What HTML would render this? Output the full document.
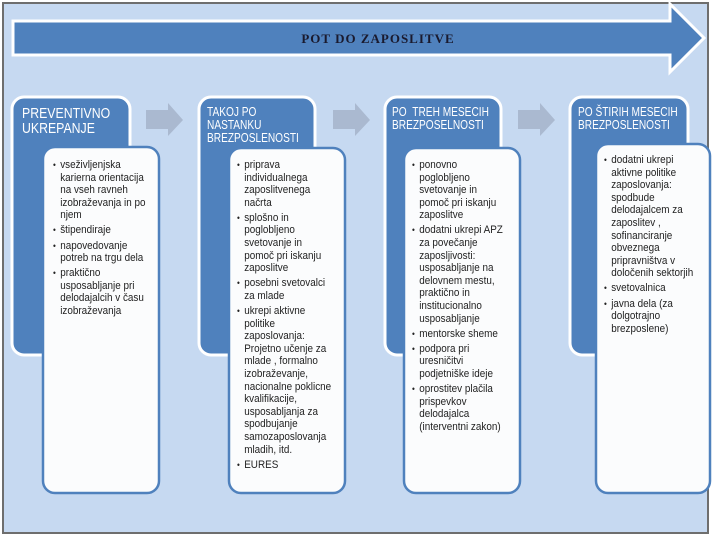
<!DOCTYPE html>
<html><head><meta charset="utf-8"><style>
body{margin:0;width:715px;height:537px;overflow:hidden;background:#fff;position:relative;font-family:"Liberation Sans",sans-serif}
.t{position:absolute;white-space:nowrap;color:#222;font-size:11px;line-height:12.6px;transform:scaleX(0.9);transform-origin:0 0}
.h{position:absolute;white-space:nowrap;color:#fff;font-size:13px;line-height:13px;transform:scaleX(0.78);transform-origin:0 0}
.li{position:relative;padding-left:8px;margin-bottom:2.5px}
.li:before{content:"•";position:absolute;left:0;top:0;font-size:9px}
</style></head><body>
<svg width="715" height="537" style="position:absolute;left:0;top:0">
<rect x="3" y="3" width="705" height="530" fill="#c6d9f1" stroke="#6e6e6e" stroke-width="2"/>
<polygon points="13,21 670,21 670,4 704,38 670,72 670,55 13,55" fill="#4f81bd" stroke="#fff" stroke-width="3"/>
<g fill="#aab9d0">
<polygon points="146,110 168,110 168,103 183,120 168,136 168,129 146,129"/>
<polygon points="333,110 355,110 355,103 370,120 355,136 355,129 333,129"/>
<polygon points="518,110 540,110 540,103 555,120 540,136 540,129 518,129"/>
</g>
<g fill="#4f81bd" stroke="#fff" stroke-width="3">
<rect x="12" y="97" width="118" height="258" rx="12"/>
<rect x="199" y="97" width="116" height="258" rx="12"/>
<rect x="385" y="97" width="116" height="258" rx="12"/>
<rect x="570" y="97" width="118" height="258" rx="12"/>
</g>
<g fill="#fbfcfd" stroke="#4f81bd" stroke-width="2.5">
<rect x="43" y="147" width="116" height="346" rx="12"/>
<rect x="229" y="148" width="116" height="345" rx="12"/>
<rect x="404" y="148" width="116" height="345" rx="12"/>
<rect x="596" y="144" width="114" height="349" rx="12"/>
</g>
<text x="378" y="43" text-anchor="middle" font-family="Liberation Serif,serif" font-weight="bold" font-size="13" letter-spacing="1" fill="#1a1a2e">POT DO ZAPOSLITVE</text>
</svg>
<div class="h" style="left:22px;top:106px;font-size:15px;line-height:15px;transform:scaleX(0.82)">PREVENTIVNO<br>UKREPANJE</div>
<div class="h" style="left:207px;top:105px">TAKOJ PO<br>NASTANKU<br>BREZPOSLENOSTI</div>
<div class="h" style="left:392px;top:105px">PO &nbsp;TREH MESECIH<br>BREZPOSELNOSTI</div>
<div class="h" style="left:578px;top:105px">PO ŠTIRIH MESECIH<br>BREZPOSLENOSTI</div>

<div class="t" style="left:53px;top:159px">
<div class="li">vseživljenjska<br>karierna orientacija<br>na vseh ravneh<br>izobraževanja in po<br>njem</div>
<div class="li">štipendiraje</div>
<div class="li">napovedovanje<br>potreb na trgu dela</div>
<div class="li">praktično<br>usposabljanje pri<br>delodajalcih v času<br>izobraževanja</div>
</div>
<div class="t" style="left:237px;top:159px">
<div class="li">priprava<br>individualnega<br>zaposlitvenega<br>načrta</div>
<div class="li">splošno in<br>poglobljeno<br>svetovanje in<br>pomoč pri iskanju<br>zaposlitve</div>
<div class="li">posebni svetovalci<br>za mlade</div>
<div class="li">ukrepi aktivne<br>politike<br>zaposlovanja:<br>Projetno učenje za<br>mlade , formalno<br>izobraževanje,<br>nacionalne poklicne<br>kvalifikacije,<br>usposabljanja za<br>spodbujanje<br>samozaposlovanja<br>mladih, itd.</div>
<div class="li">EURES</div>
</div>
<div class="t" style="left:412px;top:159px">
<div class="li">ponovno<br>poglobljeno<br>svetovanje in<br>pomoč pri iskanju<br>zaposlitve</div>
<div class="li">dodatni ukrepi APZ<br>za povečanje<br>zaposljivosti:<br>usposabljanje na<br>delovnem mestu,<br>praktično in<br>institucionalno<br>usposabljanje</div>
<div class="li">mentorske sheme</div>
<div class="li">podpora pri<br>uresničitvi<br>podjetniške ideje</div>
<div class="li">oprostitev plačila<br>prispevkov<br>delodajalca<br>(interventni zakon)</div>
</div>
<div class="t" style="left:604px;top:154px">
<div class="li">dodatni ukrepi<br>aktivne politike<br>zaposlovanja:<br>spodbude<br>delodajalcem za<br>zaposlitev ,<br>sofinanciranje<br>obveznega<br>pripravništva v<br>določenih sektorjih</div>
<div class="li">svetovalnica</div>
<div class="li">javna dela (za<br>dolgotrajno<br>brezposlene)</div>
</div>
</body></html>
